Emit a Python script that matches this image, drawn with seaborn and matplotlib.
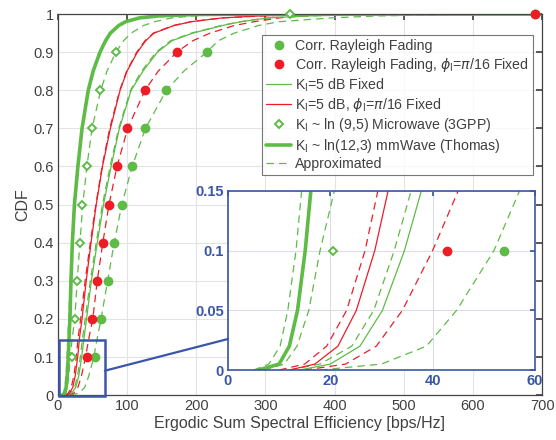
import matplotlib
matplotlib.use("Agg")
import matplotlib.pyplot as plt
import seaborn as sns
import pandas as pd
from matplotlib.lines import Line2D
from matplotlib.patches import Rectangle, ConnectionPatch

# ---------------- data ----------------
cdf_levels = [0, 0.005, 0.02, 0.05, 0.1, 0.15, 0.2, 0.3, 0.4, 0.5, 0.6, 0.7,
              0.8, 0.85, 0.9, 0.93, 0.95, 0.97, 0.98, 0.99, 0.995, 0.999, 1.0, 1.0]

thick_mmwave_x = [6, 10, 12, 13.6, 15.1, 16.2, 17.5, 19, 21, 24, 29, 35,
                  44, 51, 61, 69, 76, 88, 98, 118, 145, 200, 300, 700]
approx_mmwave_x = [5, 8, 10.2, 11.7, 13.3, 14.4, 15.8, 18, 20.5, 23.5, 28.5, 34.5,
                   43.5, 50.5, 60, 68, 75, 87, 97, 117, 145, 200, 300, 700]
approx_micro_x = [7, 11, 13.5, 15.8, 18, 20.8, 24.5, 28, 32, 36, 42, 49.5,
                  62, 71, 84, 95, 106, 124, 140, 165, 195, 240, 300, 700]
red_k5_x = [12, 17, 21.5, 25.1, 28.7, 31.3, 35, 41, 48, 55.5, 64.5, 76,
            90, 100, 115, 127, 139, 168, 193, 238, 290, 370, 450, 700]
approx_red_k5_x = [10, 15, 19.3, 23.2, 26.8, 29.3, 33, 39.5, 47, 55, 64, 75,
                   89.5, 99.5, 114, 126, 138, 167, 192, 238, 290, 370, 450, 700]
green_k5_x = [14, 20, 25.8, 30.2, 34.5, 37.8, 41.5, 48.5, 57, 66, 77, 89,
              106, 123, 144, 165, 195, 238, 265, 305, 360, 450, 550, 700]
approx_green_k5_x = [12, 18, 24.2, 28.5, 32.5, 35.8, 39.5, 47, 55.5, 64.5, 75.5, 88,
                     105, 121, 142, 163, 193, 236, 263, 303, 360, 450, 550, 700]
approx_red_ray_x = [15, 23, 29, 34.1, 40, 45, 50.5, 57, 65, 74, 85.5, 101,
                    126, 145, 172, 195, 220, 255, 284, 320, 350, 400, 480, 700]
approx_green_ray_x = [18, 30, 38.8, 44.7, 52, 57, 62.5, 72, 81.5, 92.5, 107.5, 126.6,
                      157, 182, 215, 232, 255, 290, 320, 395, 460, 580, 700, 700]

marker_levels = [0.1, 0.2, 0.3, 0.4, 0.5, 0.6, 0.7, 0.8, 0.9, 1.0]
green_circ_x = [54, 62.5, 72, 81.5, 92.5, 107.5, 126.6, 157, 215, 690]
red_circ_x = [42.8, 50, 56.7, 64.7, 73.4, 85.4, 100.7, 125.6, 172, 690]
diamond_x = [20.5, 25, 27.8, 31.7, 35.5, 41.7, 49, 61.4, 84, 335]

x_ticks = [0, 100, 200, 300, 400, 500, 600, 700]
y_ticks = [0, 0.1, 0.2, 0.3, 0.4, 0.5, 0.6, 0.7, 0.8, 0.9, 1.0]
y_ticklabels = ["0", "0.1", "0.2", "0.3", "0.4", "0.5", "0.6", "0.7", "0.8", "0.9", "1"]
inset_xticks = [0, 20, 40, 60]
inset_yticks = [0, 0.05, 0.1, 0.15]
inset_yticklabels = ["0", "0.05", "0.1", "0.15"]

legend_labels = [
    "Corr. Rayleigh Fading",
    r"Corr. Rayleigh Fading, $\phi_\mathrm{l}$=$\pi$/16 Fixed",
    r"K$_\mathrm{l}$=5 dB Fixed",
    r"K$_\mathrm{l}$=5 dB, $\phi_\mathrm{l}$=$\pi$/16 Fixed",
    r"K$_\mathrm{l}$ ~ ln (9,5) Microwave (3GPP)",
    r"K$_\mathrm{l}$ ~ ln(12,3) mmWave (Thomas)",
    "Approximated",
]

# ---------------- style ----------------
sns.set_theme(style="whitegrid")
plt.rcParams["font.family"] = ["Liberation Sans", "DejaVu Sans"]
plt.rcParams["mathtext.fontset"] = "dejavusans"

GREEN = "#5DBB46"
RED = "#EE1C25"
BLUE = "#3A56A8"
TXT = "#404040"
DASH = (0, (6, 4))

fig = plt.figure(figsize=(5.56, 4.40), dpi=100)
ax = fig.add_axes([0.104, 0.102, 0.871, 0.866])
axin = fig.add_axes([0.41, 0.159, 0.552, 0.407])


def draw(a, clip=True):
    dashed = [(approx_mmwave_x, GREEN), (approx_micro_x, GREEN),
              (approx_green_k5_x, GREEN), (approx_green_ray_x, GREEN),
              (approx_red_k5_x, RED), (approx_red_ray_x, RED)]
    for xs, c in dashed:
        df = pd.DataFrame({"x": xs, "y": cdf_levels})
        sns.lineplot(data=df, x="x", y="y", ax=a, color=c, lw=0.9,
                     linestyle=DASH, sort=False, estimator=None)
    for xs, c, lw in [(green_k5_x, GREEN, 0.9), (red_k5_x, RED, 0.9),
                      (thick_mmwave_x, GREEN, 2.6)]:
        df = pd.DataFrame({"x": xs, "y": cdf_levels})
        sns.lineplot(data=df, x="x", y="y", ax=a, color=c, lw=lw,
                     sort=False, estimator=None)
    a.plot(green_circ_x, marker_levels, ls="none", marker="o", ms=6,
           color=GREEN, mec=GREEN, clip_on=clip, zorder=4)
    a.plot(red_circ_x, marker_levels, ls="none", marker="o", ms=6,
           color=RED, mec=RED, clip_on=clip, zorder=4)
    a.plot(diamond_x, marker_levels, ls="none", marker="D", ms=4.5,
           mfc="white", mec=GREEN, mew=1.4, clip_on=clip, zorder=4)


draw(ax, clip=False)
ax.set_xlim(0, 700)
ax.set_ylim(0, 1)
ax.set_xticks(x_ticks)
ax.set_yticks(y_ticks)
ax.set_yticklabels(y_ticklabels)
ax.set_xlabel("Ergodic Sum Spectral Efficiency [bps/Hz]", fontsize=11.5, color=TXT, labelpad=2)
ax.set_ylabel("CDF", fontsize=11.5, color=TXT, labelpad=2)
ax.tick_params(axis="both", which="both", direction="in", length=4,
               labelsize=10.5, colors="#444444", labelcolor=TXT,
               top=True, right=True, pad=3)
ax.grid(True, color="#E3E3E3", lw=0.8)
for s in ax.spines.values():
    s.set_color("#444444")
    s.set_linewidth(0.9)
    s.set_visible(True)

# zoom rectangle
rect = Rectangle((1, -0.002), 67, 0.147, fill=False, ec=BLUE, lw=1.8,
                 zorder=6, clip_on=False)
ax.add_patch(rect)

# legend
handles = [
    Line2D([], [], ls="none", marker="o", ms=6, color=GREEN),
    Line2D([], [], ls="none", marker="o", ms=6, color=RED),
    Line2D([], [], color=GREEN, lw=0.9),
    Line2D([], [], color=RED, lw=0.9),
    Line2D([], [], ls="none", marker="D", ms=4.5, mfc="white", mec=GREEN, mew=1.4),
    Line2D([], [], color=GREEN, lw=2.6),
    Line2D([], [], color=GREEN, lw=0.9, ls=DASH),
]
leg = ax.legend(handles, legend_labels, loc="upper right",
                bbox_to_anchor=(0.981, 0.945), borderaxespad=0,
                fontsize=10.2, frameon=True, fancybox=False,
                handlelength=1.8, handletextpad=0.25, labelspacing=0.17,
                borderpad=0.3)
leg.set_zorder(7)
leg.get_frame().set_edgecolor("#555555")
leg.get_frame().set_linewidth(0.8)
for t in leg.get_texts():
    t.set_color(TXT)

# inset
draw(axin)
axin.set_facecolor("white")
axin.set_xlim(0, 60)
axin.set_ylim(0, 0.15)
axin.set_xticks(inset_xticks)
axin.set_yticks(inset_yticks)
axin.set_yticklabels(inset_yticklabels)
axin.set_xlabel("")
axin.set_ylabel("")
axin.tick_params(axis="both", direction="in", length=3.5, colors=BLUE,
                 labelcolor=BLUE, labelsize=10.5, top=True, right=True, pad=3)
for lab in axin.get_xticklabels() + axin.get_yticklabels():
    lab.set_fontweight("bold")
axin.grid(True, color="#DCDCE6", lw=0.8)
for s in axin.spines.values():
    s.set_color(BLUE)
    s.set_linewidth(1.2)
    s.set_visible(True)

con = ConnectionPatch(xyA=(0, 0.026), coordsA=axin.transData,
                      xyB=(68, 0.064), coordsB=ax.transData,
                      color=BLUE, lw=1.6, zorder=5)
fig.add_artist(con)

fig.savefig("out.png", dpi=100)
